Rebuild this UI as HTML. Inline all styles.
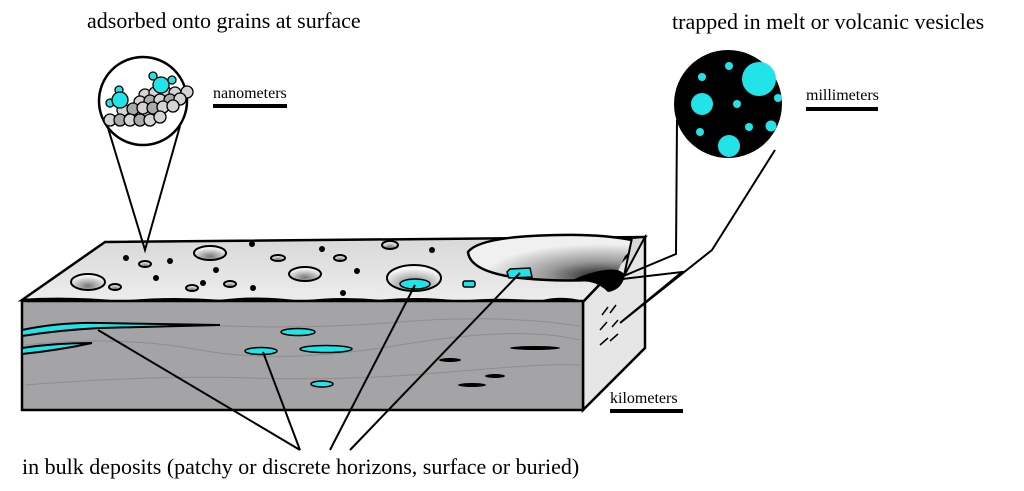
<!DOCTYPE html>
<html><head><meta charset="utf-8"><style>
html,body{margin:0;padding:0;background:#fff;width:1024px;height:491px;overflow:hidden}
text{font-family:"Liberation Serif",serif;fill:#000}
</style></head><body>
<svg width="1024" height="491" viewBox="0 0 1024 491" xmlns="http://www.w3.org/2000/svg">
<defs>
<radialGradient id="pit" cx="0.5" cy="0.75" r="0.6"><stop offset="0" stop-color="#777"/><stop offset="1" stop-color="#f4f4f4"/></radialGradient>
<radialGradient id="crat" cx="0.8" cy="0.9" r="0.7"><stop offset="0" stop-color="#222"/><stop offset="0.45" stop-color="#999"/><stop offset="1" stop-color="#f0f0f0"/></radialGradient>
<linearGradient id="top" x1="0" y1="0" x2="0" y2="1"><stop offset="0" stop-color="#d8d8d8"/><stop offset="1" stop-color="#ededed"/></linearGradient>
</defs>
<path d="M22,300 L105,242 L645,237 L583,302 Q560,296 540,302 Q500,298 460,302 Q420,297 380,301 Q340,297 300,302 Q260,296 220,301 Q170,297 120,302 Q70,297 22,300 Z" fill="url(#top)" stroke="#000" stroke-width="2.5"/>
<path d="M583,302 L645,237 L645,348 L583,410 Z" fill="#e6e6e6" stroke="#000" stroke-width="2.5"/>
<rect x="22" y="301" width="561" height="109" fill="#a4a4a6" stroke="#000" stroke-width="2.5"/>
<g fill="none" stroke="#8e8e90" stroke-width="1">
<path d="M25,345 Q120,335 200,350 T400,345 T580,340"/>
<path d="M25,385 Q150,375 250,378 T450,372 T580,365"/>
<path d="M200,325 Q300,330 400,322 T580,326"/>
</g>
<!-- big crater -->
<path d="M632,240 Q600,234 560,235 Q480,236 468,252 Q470,272 520,278 Q570,283 615,278 Z" fill="url(#crat)"/>
<path d="M632,240 Q600,234 560,235 Q480,236 468,252 Q470,272 520,278 Q570,283 615,278" fill="none" stroke="#000" stroke-width="2.5"/>
<path d="M572,280 Q590,272 605,270 Q620,268 625,275 Q622,290 608,292 Q600,284 590,282 Z" fill="#000"/>
<path d="M632,238 L645,237 L624,276 Z" fill="#d8d8d8" stroke="#000" stroke-width="2"/>
<path d="M507,272 L510,269 L530,268 L532,277 L509,278 Z" fill="#22e4e8" stroke="#000" stroke-width="1.5"/>
<g stroke="#000" stroke-width="2" fill="url(#pit)">
<ellipse cx="88" cy="282" rx="17" ry="8"/>
<ellipse cx="210" cy="253" rx="16" ry="7"/>
<ellipse cx="305" cy="274" rx="16" ry="7"/>
<ellipse cx="414" cy="278" rx="27" ry="13"/>
<ellipse cx="145" cy="264" rx="6" ry="3"/>
<ellipse cx="115" cy="287" rx="6" ry="3"/>
<ellipse cx="192" cy="288" rx="6" ry="3"/>
<ellipse cx="230" cy="284" rx="6" ry="3"/>
<ellipse cx="278" cy="258" rx="7" ry="3"/>
<ellipse cx="390" cy="245" rx="8" ry="4"/>
<ellipse cx="340" cy="258" rx="6" ry="3"/>
</g>
<ellipse cx="415" cy="284" rx="15" ry="5" fill="#22e4e8" stroke="#000" stroke-width="1.5"/>
<rect x="463" y="281" width="12" height="6" rx="2" fill="#22e4e8" stroke="#000" stroke-width="1.5"/>
<g fill="#000">
<circle cx="126" cy="258" r="3"/><circle cx="170" cy="261" r="3"/><circle cx="252" cy="244" r="3"/><circle cx="203" cy="283" r="3"/><circle cx="156" cy="278" r="3"/><circle cx="216" cy="270" r="3"/><circle cx="253" cy="288" r="3"/><circle cx="322" cy="249" r="3"/><circle cx="357" cy="271" r="3"/><circle cx="343" cy="293" r="3"/><circle cx="432" cy="250" r="3"/>
</g>
<path d="M22,330 Q60,322 100,323 L220,325 L100,328 Q60,330 22,336 Z" fill="#22e4e8" stroke="#000" stroke-width="2"/>
<path d="M22,348 Q55,343 92,343 Q60,350 22,354 Z" fill="#22e4e8" stroke="#000" stroke-width="2"/>
<g fill="#22e4e8" stroke="#000" stroke-width="1.5">
<ellipse cx="298" cy="332" rx="17" ry="3.5"/>
<ellipse cx="261" cy="351" rx="16" ry="3.5"/>
<ellipse cx="326" cy="349" rx="26" ry="3.5"/>
<ellipse cx="322" cy="384" rx="11" ry="3"/>
</g>
<g fill="#000">
<ellipse cx="535" cy="348" rx="25" ry="2"/><ellipse cx="450" cy="360" rx="11" ry="2"/><ellipse cx="495" cy="376" rx="10" ry="2"/><ellipse cx="472" cy="385" rx="14" ry="2"/>
</g>
<g stroke="#000" stroke-width="1.5">
<line x1="602" y1="315" x2="608" y2="307"/><line x1="610" y1="313" x2="616" y2="305"/>
<line x1="600" y1="330" x2="607" y2="322"/><line x1="612" y1="327" x2="618" y2="320"/>
<line x1="600" y1="345" x2="608" y2="338"/><line x1="610" y1="341" x2="618" y2="334"/>
</g>
<path d="M108,128 L145,250 L180,126" fill="none" stroke="#000" stroke-width="2"/>
<circle cx="143" cy="101" r="44" fill="#fff" stroke="#000" stroke-width="2.5"/>
<g stroke="#000" stroke-width="1.3">
<g fill="#d4d4d4">
<circle cx="145" cy="95" r="6"/><circle cx="155" cy="93" r="6"/><circle cx="165" cy="92" r="6"/><circle cx="175" cy="93" r="6"/><circle cx="187" cy="92" r="6"/>
<circle cx="140" cy="102" r="6"/><circle cx="150" cy="101" r="6" fill="#aaa"/><circle cx="160" cy="100" r="6"/><circle cx="170" cy="100" r="6" fill="#aaa"/><circle cx="180" cy="99" r="6"/>
<circle cx="123" cy="110" r="6"/><circle cx="133" cy="109" r="6" fill="#aaa"/><circle cx="143" cy="108" r="6"/><circle cx="153" cy="108" r="6" fill="#aaa"/><circle cx="163" cy="107" r="6"/><circle cx="173" cy="106" r="6"/>
<circle cx="110" cy="120" r="6"/><circle cx="120" cy="120" r="6" fill="#aaa"/><circle cx="130" cy="120" r="6"/><circle cx="140" cy="120" r="6" fill="#aaa"/><circle cx="150" cy="120" r="6"/><circle cx="160" cy="117" r="6"/>
</g>
</g>
<g fill="#22e4e8" stroke="#000" stroke-width="1.3">
<circle cx="119" cy="90" r="4"/><circle cx="110" cy="103" r="4"/><circle cx="120" cy="100" r="8"/>
<circle cx="153" cy="76" r="4"/><circle cx="172" cy="80" r="4"/><circle cx="161" cy="85" r="8"/>
</g>
<path d="M677,120 L676,254 L614,280 L682,272 L620,323 L712,250 L775,150" fill="none" stroke="#000" stroke-width="2"/>
<circle cx="728" cy="104" r="54" fill="#000"/>
<g fill="#22e4e8">
<circle cx="759" cy="79" r="17"/><circle cx="702" cy="104" r="11"/><circle cx="729" cy="146" r="11"/>
<circle cx="729" cy="66" r="4"/><circle cx="702" cy="77" r="4"/><circle cx="778" cy="98" r="4"/><circle cx="737" cy="104" r="4"/>
<circle cx="700" cy="132" r="4"/><circle cx="749" cy="127" r="4"/><circle cx="771" cy="126" r="5.5"/>
</g>
<g stroke="#000" stroke-width="2">
<line x1="300" y1="450" x2="98" y2="330"/>
<line x1="300" y1="450" x2="263" y2="352"/>
<line x1="330" y1="450" x2="415" y2="285"/>
<line x1="350" y1="450" x2="520" y2="273"/>
</g>
<text x="87" y="28" font-size="22">adsorbed onto grains at surface</text>
<text x="672" y="29" font-size="22">trapped in melt or volcanic vesicles</text>
<text x="22" y="474" font-size="22">in bulk deposits (patchy or discrete horizons, surface or buried)</text>
<text x="213" y="98" font-size="16">nanometers</text>
<rect x="213" y="104" width="74" height="4" fill="#000"/>
<text x="806" y="100" font-size="16">millimeters</text>
<rect x="806" y="107" width="72" height="4" fill="#000"/>
<text x="610" y="403" font-size="16">kilometers</text>
<rect x="610" y="409" width="73" height="4" fill="#000"/>
</svg>
</body></html>
